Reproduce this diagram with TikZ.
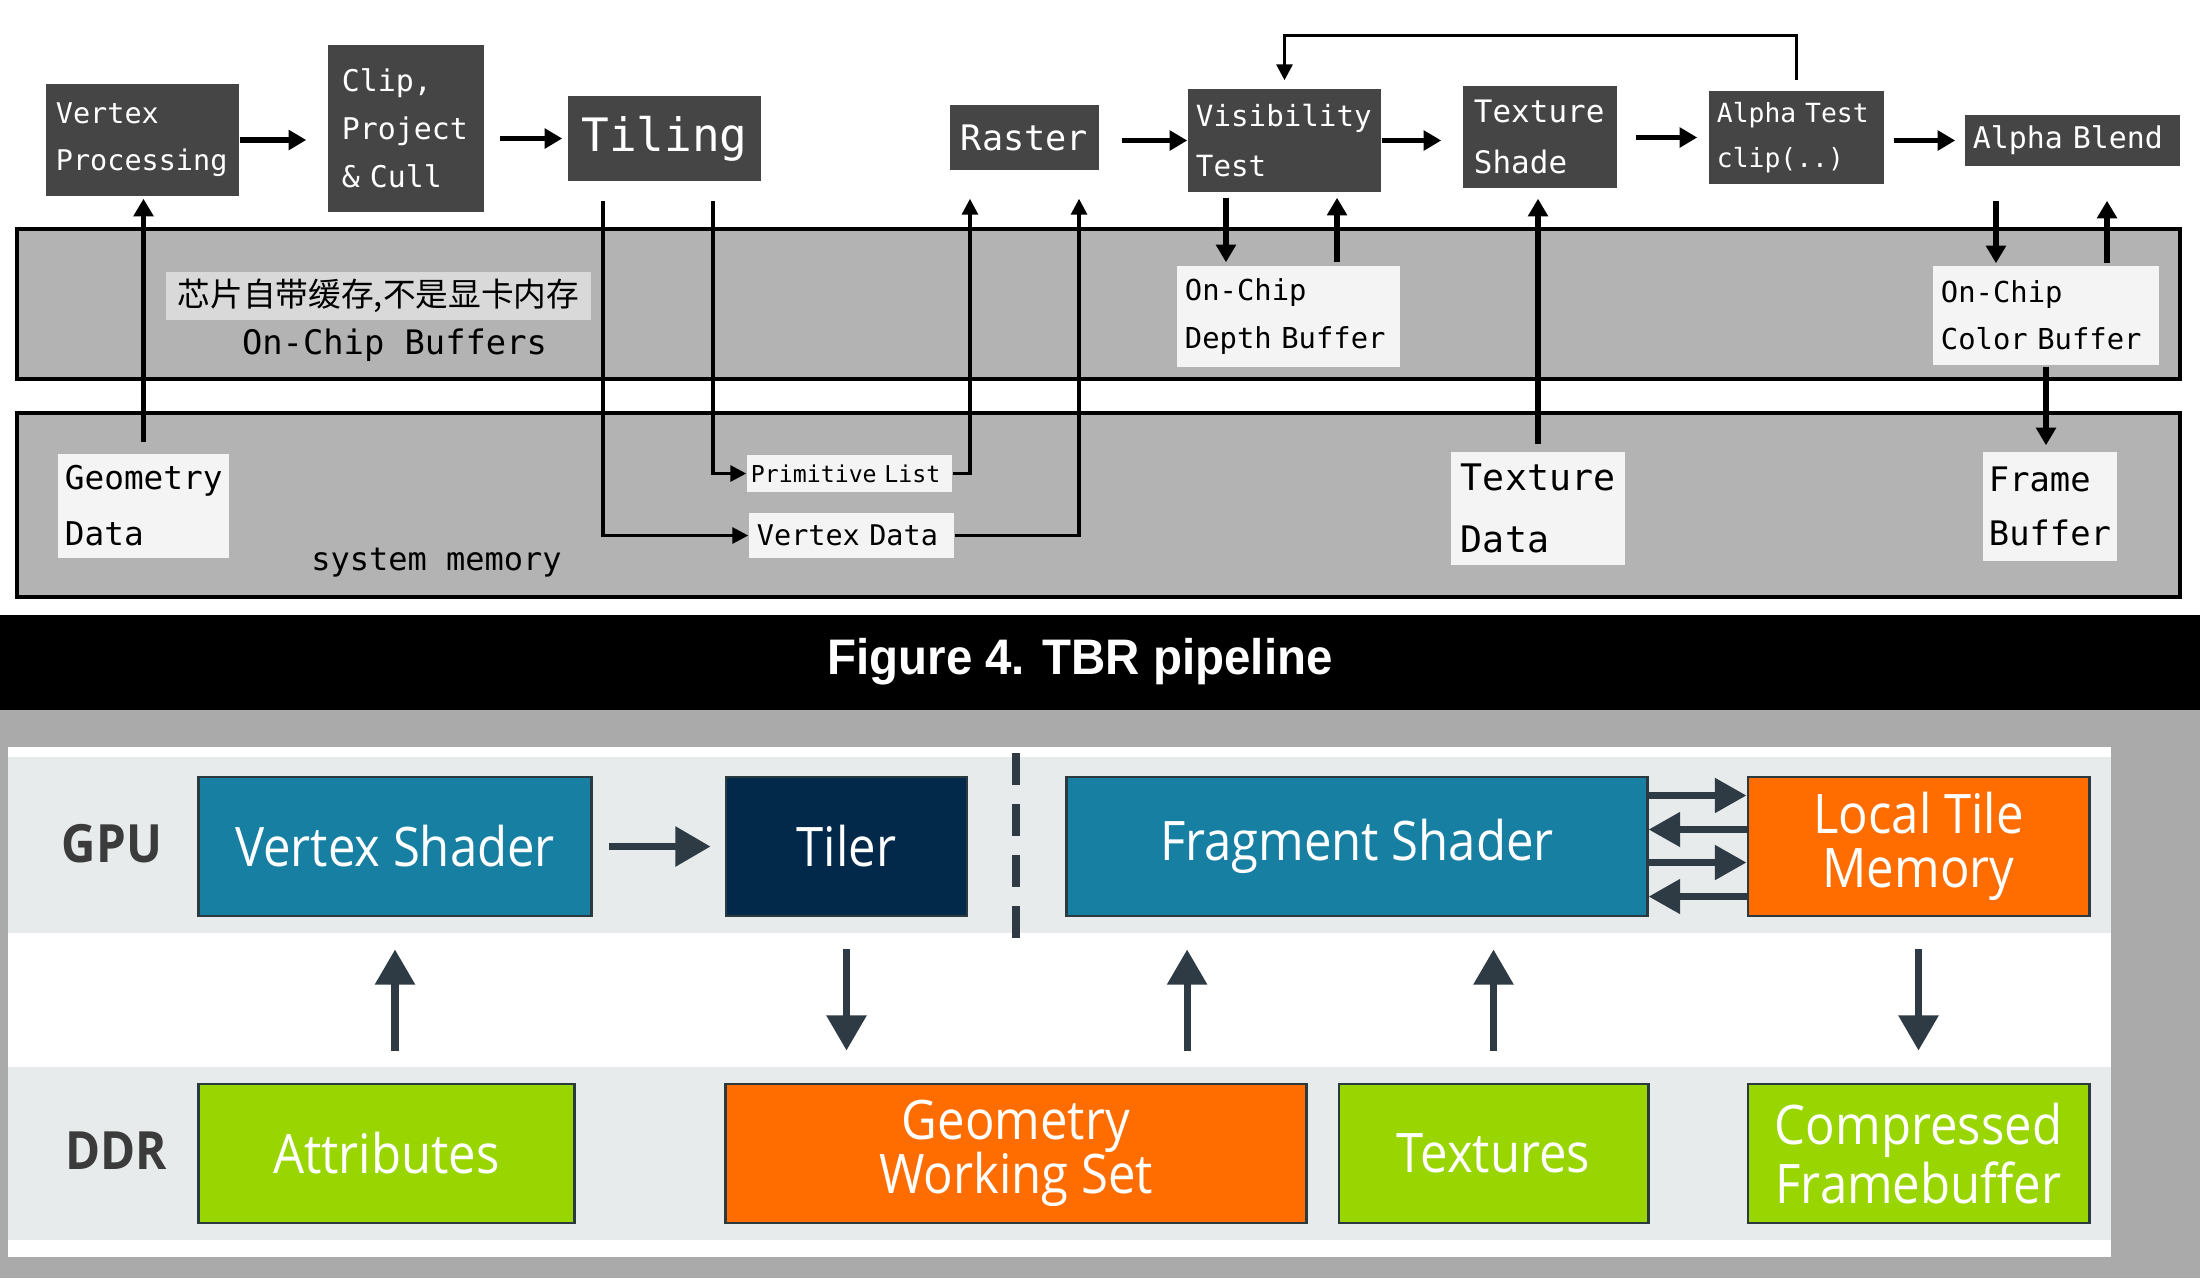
\documentclass[tikz,border=0pt]{standalone}
\usepackage{fontspec}
\usetikzlibrary{arrows.meta}
\newfontfamily\monofont{DejaVu Sans Mono}
\newfontfamily\cjkfont{Noto Sans CJK SC}
\newfontfamily\uifont[FakeStretch=0.9]{Open Sans}
\newfontfamily\captionfont[FakeStretch=0.95]{Liberation Sans}
\newcommand\monosize[2]{\monofont\fontsize{#1}{#2}\selectfont}
\definecolor{stagegray}{HTML}{454545}
\definecolor{labelwhite}{HTML}{F4F4F4}
\definecolor{bandgray}{HTML}{B3B3B3}
\definecolor{cjkgray}{HTML}{D9D9D9}
\definecolor{outergray}{HTML}{AAAAAA}
\definecolor{panelband}{HTML}{E7EBEB}
\definecolor{shaderteal}{HTML}{167FA2}
\definecolor{tilernavy}{HTML}{03294A}
\definecolor{memorange}{HTML}{FF6C00}
\definecolor{ddrgreen}{HTML}{99D500}
\definecolor{boxedge}{HTML}{2B3A3F}
\definecolor{arrowdark}{HTML}{2F3B44}
\definecolor{rowtext}{HTML}{3B3B3B}

\tikzset{
  stage/.style={fill=stagegray, text=white, align=left, inner ysep=0pt},
  memlabel/.style={fill=labelwhite, text=black, align=left, inner ysep=0pt},
  band/.style={fill=bandgray, draw=black, line width=0.9pt},
  flow/.style={-{Triangle[length=5pt,width=5.5pt]}, line width=1.5pt},
  route/.style={-{Triangle[length=4.5pt,width=4.5pt]}, line width=0.9pt},
  unit/.style={draw=boxedge, line width=0.8pt, text=white, align=center,
    font=\uifont\fontsize{15.5}{15.5}\selectfont, minimum height=1.39cm},
  rowlabel/.style={text=rowtext, font=\uifont\bfseries\fontsize{15}{16}\selectfont},
  bus/.style={-{Triangle[length=10pt,width=11pt]}, line width=2pt, draw=arrowdark},
  pair/.style={-{Triangle[length=9pt,width=9.5pt]}, line width=2pt, draw=arrowdark},
}

\begin{document}
\begin{tikzpicture}[x=0.01cm, y=-0.01cm]
  \useasboundingbox (0,0) rectangle (2200,1278);
  \fill[white] (0,0) rectangle (2200,615);
  \fill[black] (0,615) rectangle (2200,710);
  \fill[outergray] (0,710) rectangle (2200,1278);

  % upper half: TBR pipeline
  \draw[band] (17,229) rectangle (2180,379);
  \draw[band] (17,413) rectangle (2180,597);

  \node[stage, text width=1.73cm, inner xsep=0.10cm, minimum height=1.12cm, font=\monosize{8.1}{13.4}] (vp) at (142.5,140) {Vertex\\Processing};
  \node[stage, text width=1.28cm, inner xsep=0.14cm, minimum height=1.67cm, font=\monosize{8.5}{13.7}] (clip) at (406,128.5) {Clip,\\Project\\\& Cull};
  \node[stage, align=center, text width=1.73cm, inner xsep=0.10cm, minimum height=0.85cm, font=\monosize{13.1}{15}] (tiling) at (664.5,138.5) {Tiling};
  \node[stage, align=center, text width=1.29cm, inner xsep=0.10cm, minimum height=0.65cm, font=\monosize{10}{12}] (raster) at (1024.5,137.5) {Raster};
  \node[stage, text width=1.77cm, inner xsep=0.08cm, minimum height=1.03cm, font=\monosize{8.3}{14}] (vis) at (1284.5,140.5) {Visibility\\Test};
  \node[stage, text width=1.32cm, inner xsep=0.11cm, minimum height=1.02cm, font=\monosize{8.8}{14.5}] (texshade) at (1540,137) {Texture\\Shade};
  \node[stage, text width=1.59cm, inner xsep=0.08cm, minimum height=0.93cm, font=\monosize{7.5}{12.8}] (alphatest) at (1796.5,137.5) {Alpha Test\\clip(..)};
  \node[stage, text width=1.99cm, inner xsep=0.08cm, minimum height=0.51cm, font=\monosize{8.5}{10}] (alphablend) at (2072.5,140.5) {Alpha Blend};

  \node[fill=cjkgray, align=center, text width=4.1cm, inner xsep=0.075cm, minimum height=0.48cm, inner ysep=0pt, font=\cjkfont\fontsize{9.3}{11}\selectfont] (cjknote) at (378.5,296) {芯片自带缓存,不是显卡内存};
  \node[font=\monosize{9.6}{11}] (onchip) at (394.5,345) {On-Chip Buffers};
  \node[font=\monosize{9.1}{11}] (sysmem) at (436.5,563) {system memory};

  \node[memlabel, text width=1.57cm, inner xsep=0.07cm, minimum height=1.04cm, font=\monosize{9.3}{15.9}] (geo) at (143.5,506) {Geometry\\Data};
  \node[memlabel, text width=1.97cm, inner xsep=0.04cm, minimum height=0.37cm, font=\monosize{6.6}{8}] (primlist) at (849.5,473.5) {Primitive List};
  \node[memlabel, text width=1.89cm, inner xsep=0.08cm, minimum height=0.45cm, font=\monosize{8.1}{10}] (vdata) at (851.5,535.5) {Vertex Data};
  \node[memlabel, text width=2.07cm, inner xsep=0.08cm, minimum height=1.01cm, font=\monosize{8.2}{13.4}] (depth) at (1288.5,316.5) {On-Chip\\Depth Buffer};
  \node[memlabel, text width=2.10cm, inner xsep=0.08cm, minimum height=0.99cm, font=\monosize{8.2}{13.4}] (color) at (2046,315.5) {On-Chip\\Color Buffer};
  \node[memlabel, text width=1.54cm, inner xsep=0.10cm, minimum height=1.13cm, font=\monosize{10.4}{17.6}] (texdata) at (1538,508.5) {Texture\\Data};
  \node[memlabel, text width=1.22cm, inner xsep=0.06cm, minimum height=1.09cm, font=\monosize{9.6}{15.4}] (frame) at (2050,506.5) {Frame\\Buffer};

  \draw[flow, shorten >=0.21cm] (vp.east) -- (vp.east -| clip.west);
  \draw[flow, shorten <=0.15cm, shorten >=0.05cm] (clip.east |- tiling.west) -- (tiling.west);
  \draw[flow, shorten <=0.22cm] (raster.east |- vis.west) -- (vis.west);
  \draw[flow, shorten >=0.21cm] (vis.east) -- (vis.east -| texshade.west);
  \draw[flow, shorten <=0.18cm, shorten >=0.11cm] (texshade.east |- alphatest.west) -- (alphatest.west);
  \draw[flow, shorten <=0.09cm, shorten >=0.09cm] (alphatest.east |- alphablend.west) -- (alphablend.west);
  \draw[route, shorten <=0.1cm, shorten >=0.08cm] (alphatest.north) -- ++(0,-55) -| (vis.north);

  \draw[flow, shorten <=0.11cm, shorten >=0.02cm] (geo.north) -- (geo.north |- vp.south);
  \draw[route, shorten <=0.19cm] ([xshift=-0.615cm]tiling.south) |- (vdata.west);
  \draw[route, shorten <=0.19cm] ([xshift=0.485cm]tiling.south) |- (primlist.west);
  \draw[route, shorten >=0.28cm] (primlist.east) -| ([xshift=-0.545cm]raster.south);
  \draw[route, shorten >=0.28cm] (vdata.east) -| ([xshift=0.545cm]raster.south);

  \draw[flow, shorten <=0.05cm, shorten >=0.03cm] ([xshift=-0.585cm]vis.south) -- ([xshift=-0.585cm]vis.south |- depth.north);
  \draw[flow, shorten <=0.03cm, shorten >=0.05cm] ([xshift=0.525cm]vis.south |- depth.north) -- ([xshift=0.525cm]vis.south);
  \draw[flow, shorten <=0.07cm, shorten >=0.10cm] (texdata.north) -- (texdata.north |- texshade.south);
  \draw[flow, shorten <=0.34cm, shorten >=0.02cm] ([xshift=-0.765cm]alphablend.south) -- ([xshift=-0.765cm]alphablend.south |- color.north);
  \draw[flow, shorten <=0.02cm, shorten >=0.34cm] ([xshift=0.345cm]alphablend.south |- color.north) -- ([xshift=0.345cm]alphablend.south);
  \draw[flow, shorten <=0.01cm, shorten >=0.06cm] (color.south) -- (color.south |- frame.north);

  \node[text=white, font=\captionfont\bfseries\fontsize{14.2}{15}\selectfont] (caption) at (1080,662) {Figure 4. TBR pipeline};

  % lower half: GPU / DDR
  \fill[white] (8,747) rectangle (2111,1257);
  \fill[panelband] (8,757) rectangle (2111,933);
  \fill[panelband] (8,1067) rectangle (2111,1240);
  \draw[arrowdark, line width=2pt, dash pattern=on 9pt off 5.5pt] (1016,753) -- (1016,940);

  \node[rowlabel] (gpu) at (112,844) {GPU};
  \node[rowlabel] (ddr) at (116,1151) {DDR};

  \node[unit, fill=shaderteal, minimum width=3.92cm] (vs) at (395,846.5) {Vertex Shader};
  \node[unit, fill=tilernavy, minimum width=2.41cm] (tiler) at (846.5,846.5) {Tiler};
  \node[unit, fill=shaderteal, minimum width=5.80cm] (fs) at (1357,846.5) {Fragment Shader};
  \node[unit, fill=memorange, minimum width=3.41cm] (ltm) at (1918.5,846.5) {Local Tile\\Memory};
  \node[unit, fill=ddrgreen, minimum width=3.75cm] (attr) at (386.5,1153.5) {Attributes};
  \node[unit, fill=memorange, minimum width=5.80cm] (gws) at (1016,1153.5) {Geometry\\Working Set};
  \node[unit, fill=ddrgreen, minimum width=3.09cm] (tex) at (1493.5,1153.5) {Textures};
  \node[unit, fill=ddrgreen, minimum width=3.41cm] (cfb) at (1918.5,1153.5) {Compressed\\Framebuffer};

  \draw[bus, shorten <=0.16cm, shorten >=0.14cm] (vs) -- (tiler);
  \draw[bus, shorten <=0.32cm, shorten >=0.32cm] (vs.south |- attr.north) -- (vs.south);
  \draw[bus, shorten <=0.32cm, shorten >=0.32cm] (tiler.south) -- (tiler.south |- gws.north);
  \coordinate (gwsup) at ([xshift=1.71cm]gws.north);
  \draw[bus, shorten <=0.32cm, shorten >=0.32cm] (gwsup) -- (gwsup |- fs.south);
  \draw[bus, shorten <=0.32cm, shorten >=0.32cm] (tex.north) -- (tex.north |- fs.south);
  \draw[bus, shorten <=0.32cm, shorten >=0.32cm] (ltm.south) -- (ltm.south |- cfb.north);
  \foreach \dy in {0.51,-0.16}
    \draw[pair] ([yshift=\dy cm]fs.east) -- ([yshift=\dy cm]ltm.west);
  \foreach \dy in {0.17,-0.50}
    \draw[pair] ([yshift=\dy cm]ltm.west) -- ([yshift=\dy cm]fs.east);
\end{tikzpicture}
\end{document}
